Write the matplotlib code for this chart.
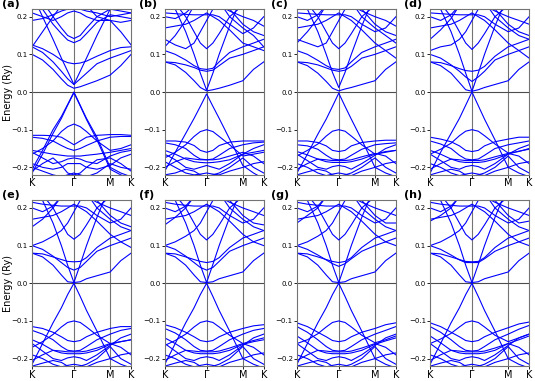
import matplotlib.pyplot as plt

# k-path K -> Gamma -> M -> K (hexagonal BZ, units of 4pi/3a)
kpts = [0.0, 0.25, 0.5, 0.7, 0.85, 1.0, 1.15, 1.3, 1.55, 1.866, 2.12, 2.366]
tick_pos = [0.0, 1.0, 1.866, 2.366]
tick_lab = ['K', 'Γ', 'M', 'K']
tags = ['(a)', '(b)', '(c)', '(d)', '(e)', '(f)', '(g)', '(h)']

bands_a = [
    [-0.205, -0.155, -0.1, -0.065, -0.033, 0.0, -0.035, -0.07, -0.12, -0.2, -0.215, -0.225],
    [-0.215, -0.165, -0.11, -0.07, -0.035, -0.002, -0.037, -0.073, -0.127, -0.205, -0.22, -0.23],
    [-0.165, -0.15, -0.13, -0.105, -0.092, -0.085, -0.092, -0.105, -0.13, -0.155, -0.15, -0.14],
    [-0.115, -0.115, -0.116, -0.12, -0.13, -0.14, -0.13, -0.12, -0.115, -0.113, -0.113, -0.115],
    [-0.12, -0.123, -0.13, -0.142, -0.15, -0.155, -0.15, -0.142, -0.13, -0.12, -0.118, -0.118],
    [-0.155, -0.16, -0.165, -0.168, -0.17, -0.17, -0.17, -0.168, -0.165, -0.16, -0.155, -0.15],
    [-0.16, -0.175, -0.19, -0.185, -0.178, -0.175, -0.178, -0.185, -0.19, -0.17, -0.16, -0.155],
    [-0.19, -0.2, -0.205, -0.2, -0.19, -0.19, -0.19, -0.2, -0.205, -0.195, -0.175, -0.165],
    [-0.2, -0.21, -0.22, -0.225, -0.22, -0.215, -0.22, -0.225, -0.215, -0.19, -0.2, -0.205],
    [-0.21, -0.19, -0.175, -0.195, -0.215, -0.22, -0.215, -0.2, -0.18, -0.175, -0.19, -0.21],
    [0.1, 0.085, 0.06, 0.035, 0.018, 0.01, 0.014, 0.02, 0.03, 0.045, 0.07, 0.1],
    [0.12, 0.105, 0.08, 0.055, 0.035, 0.02, 0.035, 0.05, 0.075, 0.09, 0.1, 0.11],
    [0.26, 0.2, 0.14, 0.09, 0.055, 0.02, 0.055, 0.09, 0.15, 0.22, 0.24, 0.25],
    [0.125, 0.115, 0.1, 0.085, 0.078, 0.075, 0.077, 0.082, 0.095, 0.11, 0.118, 0.12],
    [0.26, 0.22, 0.18, 0.155, 0.138, 0.131, 0.138, 0.155, 0.185, 0.205, 0.2, 0.195],
    [0.27, 0.24, 0.2, 0.17, 0.15, 0.142, 0.15, 0.17, 0.2, 0.22, 0.215, 0.21],
    [0.12, 0.16, 0.2, 0.23, 0.25, 0.26, 0.25, 0.23, 0.2, 0.19, 0.16, 0.125],
    [0.19, 0.195, 0.205, 0.215, 0.22, 0.222, 0.22, 0.215, 0.21, 0.2, 0.205, 0.21],
    [0.21, 0.2, 0.19, 0.2, 0.21, 0.215, 0.21, 0.2, 0.19, 0.19, 0.185, 0.19],
]

bands_b = [
    [-0.21, -0.16, -0.11, -0.07, -0.038, -0.005, -0.038, -0.07, -0.125, -0.195, -0.215, -0.23],
    [-0.175, -0.16, -0.14, -0.118, -0.105, -0.1, -0.105, -0.118, -0.14, -0.17, -0.165, -0.16],
    [-0.13, -0.13, -0.133, -0.142, -0.155, -0.16, -0.155, -0.142, -0.133, -0.13, -0.13, -0.13],
    [-0.135, -0.14, -0.15, -0.168, -0.178, -0.18, -0.178, -0.168, -0.15, -0.14, -0.135, -0.133],
    [-0.155, -0.165, -0.178, -0.185, -0.187, -0.188, -0.187, -0.185, -0.18, -0.165, -0.16, -0.155],
    [-0.165, -0.18, -0.2, -0.205, -0.2, -0.195, -0.2, -0.205, -0.19, -0.165, -0.15, -0.14],
    [-0.185, -0.2, -0.215, -0.22, -0.218, -0.215, -0.218, -0.22, -0.21, -0.2, -0.19, -0.185],
    [-0.2, -0.185, -0.175, -0.178, -0.18, -0.18, -0.18, -0.178, -0.17, -0.16, -0.17, -0.19],
    [-0.22, -0.215, -0.205, -0.21, -0.22, -0.225, -0.22, -0.215, -0.2, -0.175, -0.2, -0.215],
    [0.08, 0.072, 0.052, 0.03, 0.012, 0.003, 0.006, 0.01, 0.018, 0.03, 0.06, 0.08],
    [0.26, 0.22, 0.16, 0.1, 0.05, 0.005, 0.05, 0.1, 0.175, 0.26, 0.26, 0.26],
    [0.08, 0.078, 0.072, 0.065, 0.058, 0.055, 0.058, 0.07, 0.09, 0.1, 0.11, 0.12],
    [0.11, 0.1, 0.085, 0.07, 0.062, 0.06, 0.063, 0.08, 0.105, 0.12, 0.13, 0.14],
    [0.26, 0.235, 0.2, 0.16, 0.13, 0.115, 0.13, 0.155, 0.2, 0.23, 0.24, 0.26],
    [0.21, 0.208, 0.206, 0.205, 0.205, 0.205, 0.205, 0.2, 0.18, 0.155, 0.17, 0.2],
    [0.12, 0.15, 0.19, 0.23, 0.26, 0.27, 0.26, 0.24, 0.2, 0.17, 0.15, 0.12],
    [0.14, 0.125, 0.115, 0.13, 0.16, 0.19, 0.22, 0.24, 0.22, 0.18, 0.16, 0.15],
    [0.17, 0.175, 0.18, 0.19, 0.2, 0.21, 0.2, 0.19, 0.165, 0.13, 0.12, 0.11],
    [0.2, 0.195, 0.21, 0.23, 0.25, 0.26, 0.25, 0.23, 0.215, 0.2, 0.19, 0.175],
]

bands_c = [
    [-0.215, -0.165, -0.112, -0.072, -0.038, -0.003, -0.038, -0.072, -0.127, -0.2, -0.215, -0.225],
    [-0.17, -0.155, -0.138, -0.117, -0.104, -0.1, -0.104, -0.117, -0.14, -0.165, -0.16, -0.155],
    [-0.13, -0.13, -0.134, -0.143, -0.155, -0.158, -0.155, -0.143, -0.134, -0.13, -0.128, -0.128],
    [-0.14, -0.143, -0.152, -0.168, -0.178, -0.18, -0.178, -0.168, -0.152, -0.14, -0.137, -0.135],
    [-0.158, -0.167, -0.178, -0.185, -0.187, -0.187, -0.187, -0.185, -0.178, -0.165, -0.158, -0.155],
    [-0.165, -0.182, -0.2, -0.205, -0.198, -0.195, -0.198, -0.205, -0.19, -0.168, -0.15, -0.14],
    [-0.19, -0.2, -0.215, -0.222, -0.218, -0.215, -0.218, -0.222, -0.21, -0.2, -0.19, -0.185],
    [-0.205, -0.19, -0.178, -0.18, -0.182, -0.182, -0.182, -0.18, -0.172, -0.163, -0.17, -0.19],
    [-0.22, -0.212, -0.205, -0.21, -0.22, -0.225, -0.22, -0.215, -0.2, -0.175, -0.2, -0.215],
    [0.08, 0.07, 0.05, 0.028, 0.01, 0.003, 0.008, 0.012, 0.02, 0.03, 0.06, 0.08],
    [0.26, 0.22, 0.16, 0.1, 0.052, 0.012, 0.052, 0.1, 0.175, 0.26, 0.26, 0.26],
    [0.08, 0.078, 0.072, 0.064, 0.058, 0.055, 0.058, 0.068, 0.09, 0.1, 0.11, 0.12],
    [0.11, 0.1, 0.084, 0.07, 0.062, 0.06, 0.064, 0.08, 0.105, 0.12, 0.13, 0.14],
    [0.26, 0.235, 0.2, 0.16, 0.13, 0.115, 0.13, 0.155, 0.2, 0.23, 0.24, 0.26],
    [0.21, 0.208, 0.206, 0.205, 0.205, 0.205, 0.205, 0.2, 0.18, 0.16, 0.17, 0.2],
    [0.13, 0.16, 0.195, 0.23, 0.26, 0.27, 0.26, 0.24, 0.2, 0.17, 0.15, 0.13],
    [0.14, 0.13, 0.12, 0.13, 0.16, 0.19, 0.22, 0.24, 0.22, 0.18, 0.16, 0.15],
    [0.17, 0.175, 0.18, 0.19, 0.2, 0.21, 0.2, 0.19, 0.165, 0.13, 0.11, 0.09],
    [0.2, 0.19, 0.205, 0.23, 0.25, 0.26, 0.25, 0.23, 0.215, 0.2, 0.19, 0.175],
]

bands_d = [
    [-0.215, -0.16, -0.11, -0.07, -0.035, 0.0, -0.036, -0.072, -0.127, -0.2, -0.215, -0.225],
    [-0.165, -0.152, -0.136, -0.116, -0.104, -0.1, -0.104, -0.116, -0.138, -0.162, -0.158, -0.15],
    [-0.12, -0.125, -0.132, -0.143, -0.155, -0.158, -0.155, -0.143, -0.132, -0.125, -0.12, -0.12],
    [-0.13, -0.138, -0.15, -0.168, -0.178, -0.18, -0.178, -0.168, -0.15, -0.14, -0.135, -0.13],
    [-0.155, -0.165, -0.178, -0.185, -0.187, -0.187, -0.187, -0.185, -0.178, -0.165, -0.157, -0.152],
    [-0.165, -0.182, -0.2, -0.205, -0.198, -0.195, -0.198, -0.205, -0.19, -0.165, -0.15, -0.14],
    [-0.19, -0.2, -0.215, -0.222, -0.218, -0.215, -0.218, -0.222, -0.21, -0.2, -0.19, -0.185],
    [-0.205, -0.19, -0.178, -0.18, -0.182, -0.182, -0.182, -0.18, -0.172, -0.163, -0.17, -0.19],
    [-0.22, -0.212, -0.205, -0.21, -0.22, -0.225, -0.22, -0.215, -0.2, -0.17, -0.2, -0.215],
    [0.08, 0.07, 0.05, 0.025, 0.006, 0.002, 0.006, 0.012, 0.02, 0.03, 0.06, 0.08],
    [0.26, 0.22, 0.16, 0.1, 0.05, 0.002, 0.05, 0.1, 0.175, 0.26, 0.26, 0.26],
    [0.1, 0.09, 0.072, 0.055, 0.04, 0.028, 0.04, 0.055, 0.085, 0.1, 0.11, 0.12],
    [0.08, 0.078, 0.07, 0.062, 0.057, 0.055, 0.058, 0.068, 0.095, 0.12, 0.13, 0.14],
    [0.26, 0.235, 0.2, 0.16, 0.13, 0.113, 0.13, 0.155, 0.2, 0.23, 0.24, 0.26],
    [0.21, 0.208, 0.206, 0.205, 0.205, 0.205, 0.205, 0.2, 0.18, 0.16, 0.17, 0.2],
    [0.14, 0.165, 0.195, 0.23, 0.26, 0.27, 0.26, 0.24, 0.2, 0.17, 0.15, 0.14],
    [0.11, 0.12, 0.125, 0.14, 0.16, 0.19, 0.22, 0.24, 0.22, 0.18, 0.16, 0.15],
    [0.17, 0.175, 0.18, 0.19, 0.2, 0.21, 0.2, 0.19, 0.165, 0.13, 0.11, 0.09],
    [0.2, 0.19, 0.205, 0.23, 0.25, 0.26, 0.25, 0.23, 0.215, 0.2, 0.19, 0.18],
]

bands_e = [
    [-0.215, -0.16, -0.105, -0.065, -0.03, 0.0, -0.035, -0.072, -0.127, -0.2, -0.215, -0.225],
    [-0.17, -0.155, -0.136, -0.116, -0.104, -0.1, -0.104, -0.116, -0.138, -0.16, -0.155, -0.15],
    [-0.115, -0.12, -0.13, -0.142, -0.152, -0.155, -0.152, -0.142, -0.13, -0.12, -0.115, -0.115],
    [-0.125, -0.135, -0.15, -0.168, -0.178, -0.18, -0.178, -0.168, -0.15, -0.135, -0.125, -0.12],
    [-0.15, -0.162, -0.178, -0.185, -0.187, -0.187, -0.187, -0.185, -0.178, -0.162, -0.155, -0.15],
    [-0.16, -0.18, -0.2, -0.205, -0.198, -0.195, -0.198, -0.205, -0.19, -0.165, -0.145, -0.135],
    [-0.19, -0.2, -0.215, -0.222, -0.218, -0.215, -0.218, -0.222, -0.21, -0.2, -0.19, -0.185],
    [-0.205, -0.19, -0.178, -0.18, -0.182, -0.182, -0.182, -0.18, -0.172, -0.16, -0.17, -0.19],
    [-0.22, -0.212, -0.205, -0.21, -0.22, -0.225, -0.22, -0.215, -0.2, -0.168, -0.2, -0.215],
    [0.08, 0.07, 0.048, 0.022, 0.004, 0.002, 0.004, 0.012, 0.02, 0.03, 0.06, 0.08],
    [0.26, 0.22, 0.16, 0.1, 0.048, 0.002, 0.05, 0.1, 0.175, 0.26, 0.26, 0.26],
    [0.1, 0.09, 0.072, 0.055, 0.042, 0.035, 0.042, 0.058, 0.085, 0.1, 0.11, 0.12],
    [0.08, 0.078, 0.07, 0.063, 0.058, 0.057, 0.058, 0.068, 0.095, 0.12, 0.13, 0.14],
    [0.26, 0.235, 0.2, 0.16, 0.13, 0.117, 0.13, 0.155, 0.2, 0.23, 0.24, 0.26],
    [0.215, 0.21, 0.207, 0.205, 0.205, 0.205, 0.205, 0.2, 0.18, 0.16, 0.17, 0.2],
    [0.15, 0.17, 0.2, 0.23, 0.26, 0.27, 0.26, 0.24, 0.2, 0.17, 0.15, 0.14],
    [0.1, 0.11, 0.125, 0.14, 0.16, 0.19, 0.22, 0.24, 0.22, 0.18, 0.16, 0.15],
    [0.17, 0.175, 0.18, 0.19, 0.2, 0.21, 0.2, 0.19, 0.165, 0.13, 0.11, 0.095],
    [0.2, 0.19, 0.205, 0.23, 0.25, 0.26, 0.25, 0.23, 0.215, 0.2, 0.19, 0.18],
]

bands_f = [
    [-0.215, -0.16, -0.105, -0.065, -0.03, 0.0, -0.035, -0.072, -0.127, -0.2, -0.215, -0.225],
    [-0.165, -0.152, -0.135, -0.116, -0.104, -0.1, -0.104, -0.116, -0.138, -0.16, -0.152, -0.145],
    [-0.11, -0.118, -0.13, -0.142, -0.152, -0.155, -0.152, -0.142, -0.13, -0.12, -0.113, -0.11],
    [-0.12, -0.132, -0.15, -0.168, -0.178, -0.18, -0.178, -0.168, -0.15, -0.135, -0.125, -0.12],
    [-0.145, -0.16, -0.178, -0.185, -0.187, -0.187, -0.187, -0.185, -0.178, -0.162, -0.155, -0.15],
    [-0.16, -0.18, -0.2, -0.205, -0.198, -0.195, -0.198, -0.205, -0.19, -0.165, -0.145, -0.135],
    [-0.19, -0.2, -0.215, -0.222, -0.218, -0.215, -0.218, -0.222, -0.21, -0.2, -0.19, -0.185],
    [-0.205, -0.19, -0.178, -0.18, -0.182, -0.182, -0.182, -0.18, -0.172, -0.16, -0.17, -0.19],
    [-0.22, -0.212, -0.205, -0.21, -0.22, -0.225, -0.22, -0.215, -0.2, -0.168, -0.2, -0.215],
    [0.08, 0.07, 0.048, 0.022, 0.004, 0.002, 0.004, 0.012, 0.02, 0.03, 0.06, 0.08],
    [0.26, 0.22, 0.16, 0.1, 0.048, 0.002, 0.05, 0.1, 0.175, 0.26, 0.26, 0.26],
    [0.1, 0.09, 0.072, 0.055, 0.042, 0.035, 0.042, 0.058, 0.085, 0.1, 0.11, 0.12],
    [0.08, 0.078, 0.07, 0.063, 0.058, 0.055, 0.058, 0.068, 0.095, 0.12, 0.13, 0.14],
    [0.26, 0.235, 0.2, 0.16, 0.13, 0.115, 0.13, 0.155, 0.2, 0.23, 0.24, 0.26],
    [0.215, 0.21, 0.207, 0.205, 0.205, 0.205, 0.205, 0.2, 0.18, 0.16, 0.17, 0.2],
    [0.155, 0.175, 0.2, 0.23, 0.26, 0.27, 0.26, 0.24, 0.2, 0.17, 0.15, 0.14],
    [0.1, 0.11, 0.125, 0.14, 0.16, 0.19, 0.22, 0.24, 0.22, 0.18, 0.16, 0.155],
    [0.17, 0.175, 0.18, 0.19, 0.2, 0.21, 0.2, 0.19, 0.165, 0.13, 0.11, 0.1],
    [0.2, 0.19, 0.205, 0.23, 0.25, 0.26, 0.25, 0.23, 0.215, 0.2, 0.19, 0.18],
]

bands_g = [
    [-0.215, -0.16, -0.105, -0.065, -0.03, 0.0, -0.035, -0.072, -0.127, -0.2, -0.215, -0.225],
    [-0.16, -0.15, -0.134, -0.116, -0.104, -0.1, -0.104, -0.116, -0.138, -0.158, -0.15, -0.14],
    [-0.105, -0.115, -0.13, -0.142, -0.152, -0.155, -0.152, -0.142, -0.13, -0.12, -0.11, -0.105],
    [-0.115, -0.13, -0.15, -0.168, -0.178, -0.18, -0.178, -0.168, -0.15, -0.135, -0.125, -0.115],
    [-0.14, -0.158, -0.178, -0.185, -0.187, -0.187, -0.187, -0.185, -0.178, -0.162, -0.153, -0.145],
    [-0.16, -0.18, -0.2, -0.205, -0.198, -0.195, -0.198, -0.205, -0.19, -0.165, -0.145, -0.135],
    [-0.19, -0.2, -0.215, -0.222, -0.218, -0.215, -0.218, -0.222, -0.21, -0.2, -0.19, -0.185],
    [-0.205, -0.19, -0.178, -0.18, -0.182, -0.182, -0.182, -0.18, -0.172, -0.16, -0.17, -0.19],
    [-0.22, -0.212, -0.205, -0.21, -0.22, -0.225, -0.22, -0.215, -0.2, -0.168, -0.2, -0.215],
    [0.08, 0.07, 0.048, 0.022, 0.004, 0.002, 0.004, 0.012, 0.02, 0.03, 0.06, 0.08],
    [0.26, 0.22, 0.16, 0.1, 0.048, 0.002, 0.05, 0.1, 0.175, 0.26, 0.26, 0.26],
    [0.1, 0.09, 0.075, 0.062, 0.052, 0.045, 0.052, 0.065, 0.085, 0.1, 0.11, 0.12],
    [0.08, 0.078, 0.07, 0.063, 0.058, 0.055, 0.058, 0.068, 0.095, 0.12, 0.13, 0.14],
    [0.26, 0.235, 0.2, 0.16, 0.13, 0.115, 0.13, 0.155, 0.2, 0.23, 0.24, 0.26],
    [0.215, 0.21, 0.207, 0.205, 0.205, 0.205, 0.205, 0.2, 0.18, 0.16, 0.17, 0.2],
    [0.16, 0.18, 0.2, 0.23, 0.26, 0.27, 0.26, 0.24, 0.2, 0.17, 0.15, 0.14],
    [0.1, 0.11, 0.125, 0.14, 0.16, 0.19, 0.22, 0.24, 0.22, 0.18, 0.16, 0.16],
    [0.17, 0.175, 0.18, 0.19, 0.2, 0.21, 0.2, 0.19, 0.165, 0.13, 0.11, 0.1],
    [0.2, 0.19, 0.205, 0.23, 0.25, 0.26, 0.25, 0.23, 0.215, 0.2, 0.19, 0.18],
]

bands_h = [
    [-0.215, -0.16, -0.105, -0.065, -0.03, 0.0, -0.035, -0.072, -0.127, -0.2, -0.215, -0.225],
    [-0.16, -0.148, -0.133, -0.116, -0.104, -0.1, -0.104, -0.116, -0.138, -0.155, -0.145, -0.135],
    [-0.105, -0.115, -0.13, -0.142, -0.152, -0.155, -0.152, -0.142, -0.13, -0.118, -0.108, -0.103],
    [-0.115, -0.13, -0.15, -0.168, -0.178, -0.18, -0.178, -0.168, -0.15, -0.135, -0.122, -0.112],
    [-0.14, -0.158, -0.178, -0.185, -0.187, -0.187, -0.187, -0.185, -0.178, -0.16, -0.15, -0.14],
    [-0.16, -0.18, -0.2, -0.205, -0.198, -0.195, -0.198, -0.205, -0.19, -0.165, -0.145, -0.135],
    [-0.19, -0.2, -0.215, -0.222, -0.218, -0.215, -0.218, -0.222, -0.21, -0.2, -0.19, -0.185],
    [-0.205, -0.19, -0.178, -0.18, -0.182, -0.182, -0.182, -0.18, -0.172, -0.16, -0.17, -0.19],
    [-0.22, -0.212, -0.205, -0.21, -0.22, -0.225, -0.22, -0.215, -0.2, -0.168, -0.2, -0.215],
    [0.08, 0.07, 0.048, 0.022, 0.004, 0.002, 0.004, 0.012, 0.02, 0.03, 0.06, 0.08],
    [0.26, 0.22, 0.16, 0.1, 0.048, 0.002, 0.05, 0.1, 0.175, 0.26, 0.26, 0.26],
    [0.1, 0.09, 0.075, 0.062, 0.055, 0.055, 0.055, 0.065, 0.085, 0.1, 0.11, 0.12],
    [0.08, 0.078, 0.07, 0.063, 0.058, 0.057, 0.058, 0.068, 0.095, 0.12, 0.13, 0.14],
    [0.26, 0.235, 0.2, 0.16, 0.13, 0.115, 0.13, 0.155, 0.2, 0.23, 0.24, 0.26],
    [0.215, 0.21, 0.207, 0.205, 0.205, 0.205, 0.205, 0.2, 0.18, 0.16, 0.17, 0.2],
    [0.165, 0.18, 0.2, 0.23, 0.26, 0.27, 0.26, 0.24, 0.2, 0.17, 0.15, 0.14],
    [0.1, 0.11, 0.125, 0.14, 0.16, 0.19, 0.22, 0.24, 0.22, 0.18, 0.16, 0.165],
    [0.17, 0.175, 0.18, 0.19, 0.2, 0.21, 0.2, 0.19, 0.165, 0.13, 0.11, 0.1],
    [0.2, 0.19, 0.205, 0.23, 0.25, 0.26, 0.25, 0.23, 0.215, 0.2, 0.19, 0.18],
]

all_bands = [bands_a, bands_b, bands_c, bands_d, bands_e, bands_f, bands_g, bands_h]

fig = plt.figure(figsize=(5.35, 3.81), dpi=100)

col_left = [0.060, 0.308, 0.555, 0.804]
row_bottom = [0.541, 0.039]
w, h = 0.185, 0.435

for i, bands in enumerate(all_bands):
    ax = fig.add_axes([col_left[i % 4], row_bottom[i // 4], w, h])
    for b in bands:
        ax.plot(kpts, b, color='#0000ff', lw=0.8)
    for kx in tick_pos[1:3]:
        ax.axvline(kx, color='0.45', lw=0.8, zorder=0)
    ax.axhline(0.0, color='0.3', lw=0.8, zorder=0)
    ax.set_xlim(tick_pos[0], tick_pos[-1])
    ax.set_ylim(-0.22, 0.22)
    ax.set_xticks(tick_pos)
    ax.set_xticklabels(tick_lab)
    ax.set_yticks([-0.2, -0.1, 0.0, 0.1, 0.2])
    ax.tick_params(axis='y', labelsize=5, length=2, width=0.6, pad=1)
    ax.tick_params(axis='x', labelsize=7, length=2, width=0.6, pad=0.5)
    for s in ax.spines.values():
        s.set_color('0.45')
        s.set_linewidth(0.8)
    if i % 4 == 0:
        ax.set_ylabel('Energy (Ry)', fontsize=7)
        ax.yaxis.set_label_coords(-0.19, 0.5)
        tx = -0.30
    else:
        tx = -0.26
    ax.text(tx, 1.03, tags[i], transform=ax.transAxes, fontsize=8,
            fontweight='bold', ha='left', va='center')

fig.savefig('out.png', dpi=100)
